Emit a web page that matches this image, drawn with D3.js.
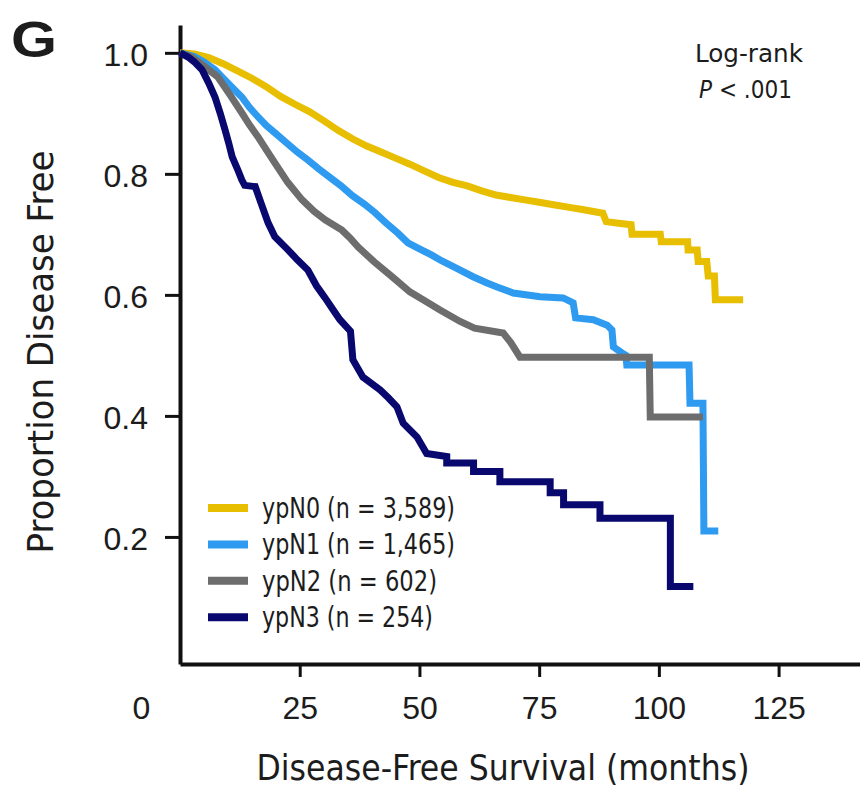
<!DOCTYPE html>
<meta charset="utf-8">
<style>
    body { margin: 0; background: #fff; }
    text {
        font-family: "Liberation Sans Narrow", "DejaVu Sans Condensed", "Liberation Sans", sans-serif;
        fill: #1c1c1c;
    }
    .tick text { font-family: "Liberation Sans", Arial, sans-serif; }
    .curve { fill: none; stroke-width: 7px; stroke-linejoin: miter; }
</style>
<svg width="860" height="791"></svg>
<script src="https://cdnjs.cloudflare.com/ajax/libs/d3/7.8.5/d3.min.js"></script>
<script>
    // groups, legend counts and colours
    const groups = ["ypN0", "ypN1", "ypN2", "ypN3"];
    const groupSizes = ["3,589", "1,465", "602", "254"];
    const groupColors = ["#e8be00", "#2e9bf0", "#6d6d6d", "#08086e"];

    // Kaplan-Meier curves, as drawn vertices: [months, proportion disease free]
    const ypN0 = [
        [0, 1.0], [3, 0.998], [6, 0.992], [9, 0.982], [12, 0.970], [15, 0.958],
        [18, 0.944], [21, 0.928], [24, 0.915], [27, 0.903], [30, 0.888], [33, 0.872],
        [36, 0.858], [39, 0.846], [42, 0.836], [45, 0.826], [48, 0.816], [51, 0.805],
        [54, 0.794], [57, 0.786], [60, 0.780], [63, 0.772], [66, 0.765], [69, 0.761],
        [72, 0.757], [75, 0.753], [78, 0.749], [81, 0.745], [84, 0.741], [88.3, 0.735],
        [89, 0.721], [92, 0.718], [94.2, 0.716], [94.4, 0.700], [100.3, 0.700],
        [100.5, 0.688], [106, 0.688], [106.1, 0.674], [108, 0.674], [108.2, 0.655],
        [110, 0.655], [110.3, 0.631], [111.6, 0.631], [111.8, 0.592], [117.6, 0.592]
    ];
    const ypN1 = [
        [0, 1.0], [3, 0.994], [5, 0.985], [7.3, 0.972], [9, 0.958], [11, 0.942],
        [12.9, 0.927], [14.5, 0.910], [16.3, 0.894], [18, 0.880], [19.8, 0.868],
        [22, 0.853], [24.5, 0.836], [26.7, 0.823], [29, 0.808], [31.5, 0.793],
        [33.8, 0.779], [36, 0.764], [38.5, 0.750], [40.7, 0.736], [43, 0.719],
        [45.5, 0.702], [47.6, 0.686], [50, 0.676], [52.5, 0.666], [54.7, 0.656],
        [57.5, 0.645], [61.2, 0.630], [64, 0.620], [66.2, 0.613], [69.6, 0.603],
        [75.2, 0.597], [80, 0.595], [82.1, 0.587], [82.6, 0.562], [86.3, 0.559],
        [89.2, 0.550], [90.2, 0.542], [90.5, 0.514], [92.3, 0.504], [93.1, 0.500],
        [93.3, 0.484], [106.3, 0.484], [106.5, 0.421], [109.2, 0.421], [109.4, 0.210],
        [112.4, 0.210]
    ];
    const ypN2 = [
        [0, 1.0], [2.5, 0.993], [5, 0.978], [7.9, 0.960], [10.5, 0.930], [12.9, 0.901],
        [14.5, 0.881], [16.3, 0.861], [18, 0.840], [19.8, 0.818], [22.5, 0.786],
        [25.5, 0.757], [28, 0.738], [30.3, 0.724], [33.8, 0.707], [35.5, 0.694],
        [37.2, 0.679], [40.5, 0.655], [44.3, 0.630], [48, 0.605], [51.2, 0.590],
        [54.3, 0.575], [58.5, 0.556], [61.5, 0.545], [67.5, 0.537], [69, 0.522],
        [71, 0.497], [98, 0.497], [98.2, 0.398], [109.2, 0.398]
    ];
    const ypN3 = [
        [0, 1.0], [1.7, 0.993], [3, 0.985], [4.6, 0.972], [6, 0.950], [7.3, 0.927],
        [8.4, 0.900], [9.4, 0.873], [10.2, 0.850], [10.9, 0.828], [12, 0.808],
        [12.9, 0.790], [13.5, 0.781], [15.7, 0.779], [17, 0.750], [18.4, 0.719],
        [19.8, 0.696], [22.6, 0.674], [24.5, 0.658], [26.7, 0.641], [28.5, 0.615],
        [30.3, 0.595], [32, 0.575], [33.4, 0.559], [35.6, 0.540], [36.1, 0.493],
        [38.2, 0.464], [41.8, 0.443], [43.5, 0.430], [45.3, 0.415], [46.6, 0.388],
        [49.5, 0.365], [51.5, 0.338], [55.7, 0.333], [55.7, 0.322], [61.3, 0.322],
        [61.3, 0.308], [66.8, 0.308], [66.8, 0.291], [77.3, 0.291], [77.3, 0.273],
        [80.1, 0.273], [80.1, 0.253], [87.7, 0.253], [87.7, 0.231], [102.4, 0.231],
        [102.4, 0.118], [107.2, 0.118]
    ];
    const series = [ypN0, ypN1, ypN2, ypN3];

    const xTicks = [0, 25, 50, 75, 100, 125];
    const yTicks = [0.2, 0.4, 0.6, 0.8, 1.0];

    // legend label widths in the picture (font here is wider, so squeeze)
    const legendWidths = [193, 193, 175, 171];

    const svg = d3.select("svg");

    const x = d3.scaleLinear().domain([0, 142]).range([180, 860]);
    const y = d3.scaleLinear().domain([-0.01, 1.046]).range([664, 25]);

    // axes
    const xAxis = svg.append("g")
        .attr("transform", "translate(0," + y(-0.01) + ")")
        .call(d3.axisBottom(x)
            .tickValues(xTicks)
            .tickFormat(d3.format("d"))
            .tickSize(13)
            .tickSizeOuter(0)
            .tickPadding(19));
    xAxis.select(".domain").attr("stroke", "#111").attr("stroke-width", 4);
    xAxis.selectAll(".tick line").attr("stroke", "#111").attr("stroke-width", 3);
    xAxis.selectAll(".tick text").style("font-size", "32px");
    // the origin label sits left of the corner, without a tick
    xAxis.selectAll(".tick").filter(function (d) { return d === 0; })
        .call(function (t) {
            t.select("line").remove();
            t.select("text").attr("dx", -39);
        });

    const yAxis = svg.append("g")
        .attr("transform", "translate(" + x(0) + ",0)")
        .call(d3.axisLeft(y)
            .tickValues(yTicks)
            .tickFormat(d3.format(".1f"))
            .tickSize(15)
            .tickSizeOuter(0)
            .tickPadding(17));
    yAxis.select(".domain").attr("stroke", "#111").attr("stroke-width", 4);
    yAxis.selectAll(".tick line").attr("stroke", "#111").attr("stroke-width", 3);
    yAxis.selectAll(".tick text").style("font-size", "32px").attr("dy", "0.38em");

    // curves
    const line = d3.line()
        .x(function (d) { return x(d[0]); })
        .y(function (d) { return y(d[1]); });

    svg.append("g").selectAll("path")
        .data(series)
        .enter().append("path")
        .attr("class", "curve")
        .attr("stroke", function (d, i) { return groupColors[i]; })
        .attr("d", line);

    // legend
    const legend = svg.append("g").selectAll("g")
        .data(groups)
        .enter().append("g")
        .attr("transform", function (d, i) { return "translate(208," + (508 + i * 36.4) + ")"; });

    legend.append("line")
        .attr("x1", 0).attr("x2", 40)
        .attr("stroke", function (d, i) { return groupColors[i]; })
        .attr("stroke-width", 8);

    legend.append("text")
        .attr("x", 54)
        .attr("y", 10)
        .attr("textLength", function (d, i) { return legendWidths[i]; })
        .attr("lengthAdjust", "spacingAndGlyphs")
        .style("font-size", "28px")
        .text(function (d, i) { return d + " (n = " + groupSizes[i] + ")"; });

    // titles
    svg.append("text")
        .attr("x", 503)
        .attr("y", 780)
        .attr("text-anchor", "middle")
        .attr("textLength", 493)
        .attr("lengthAdjust", "spacingAndGlyphs")
        .style("font-size", "35px")
        .text("Disease-Free Survival (months)");

    svg.append("text")
        .attr("transform", "translate(53,352) rotate(-90)")
        .attr("text-anchor", "middle")
        .attr("textLength", 403)
        .attr("lengthAdjust", "spacingAndGlyphs")
        .style("font-size", "36px")
        .text("Proportion Disease Free");

    svg.append("text")
        .attr("x", 11)
        .attr("y", 57)
        .attr("textLength", 46)
        .attr("lengthAdjust", "spacingAndGlyphs")
        .style("font-family", "'Liberation Sans', Arial, sans-serif")
        .style("font-weight", "bold")
        .style("font-size", "50px")
        .text("G");

    // log-rank annotation
    svg.append("text")
        .attr("x", 695)
        .attr("y", 62)
        .attr("textLength", 108)
        .attr("lengthAdjust", "spacingAndGlyphs")
        .style("font-size", "24px")
        .text("Log-rank");

    const p = svg.append("text")
        .attr("x", 699)
        .attr("y", 98)
        .style("font-size", "24px");
    p.append("tspan").style("font-style", "italic").text("P");
    p.append("tspan").text(" < .001");
</script>
